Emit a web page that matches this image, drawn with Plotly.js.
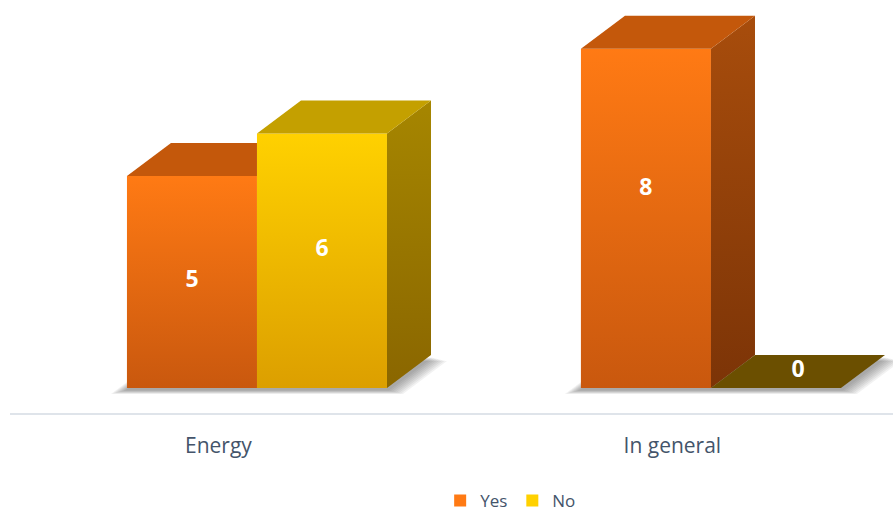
<!DOCTYPE html>
<html>
<head>
<meta charset="utf-8">
<script src="https://cdn.plot.ly/plotly-3.0.1.min.js"></script>
<style>
  html, body { margin: 0; padding: 0; background: #ffffff; }
  #chart { width: 893px; height: 514px; }
</style>
</head>
<body>
<div id="chart"></div>
<script>
// Survey answers per topic
const categories = ['Energy', 'In general'];
const seriesNames = ['Yes', 'No'];
const yesValues = [5, 8];
const noValues = [6, 0];

// Colours of each box face (front gradient, lid, side gradient, flat lid for zero-height boxes)
const palette = [
  { front: '#ff7a14', frontBottom: '#c9580e', top: '#c4580b', sideTop: '#a84d0c', sideBottom: '#7c3407', flat: '#7a3a08' },
  { front: '#ffd100', frontBottom: '#dc9f00', top: '#c4a000', sideTop: '#a68600', sideBottom: '#8a6600', flat: '#6b4f00' }
];
const valuesBySeries = [yesValues, noValues];

// Geometry of the pseudo-3D boxes, in axis units
const BARGAP = 0.4273;
const BAR_W = (1 - BARGAP) / seriesNames.length;
const DX = 0.097;   // depth, horizontal
const DY = 0.778;   // depth, vertical
const LABEL_SHIFT = -0.085;
const PX_X = 1 / 454;   // one screen pixel in x units
const PX_Y = 1 / 42.4;  // one screen pixel in y units

const font = 'Open Sans, Noto Sans, sans-serif';
const textColor = '#44546a';

function poly(points, color, gradient) {
  const t = {
    type: 'scatter', mode: 'lines', fill: 'toself',
    x: points.map(p => p[0]).concat([points[0][0]]),
    y: points.map(p => p[1]).concat([points[0][1]]),
    line: { width: 0, color: 'rgba(0,0,0,0)' },
    fillcolor: color,
    showlegend: false, hoverinfo: 'skip'
  };
  if (gradient) t.fillgradient = gradient;
  return t;
}

function vgrad(bottom, top) {
  return { type: 'vertical', colorscale: [[0, bottom], [1, top]] };
}

function hexA(hex, a) {
  const n = parseInt(hex.slice(1), 16);
  return 'rgba(' + (n >> 16 & 255) + ',' + (n >> 8 & 255) + ',' + (n & 255) + ',' + a + ')';
}

const traces = [];

// Front faces as bars
seriesNames.forEach((name, s) => {
  traces.push({
    type: 'bar', name: name,
    x: categories.map((c, i) => i),
    y: valuesBySeries[s],
    marker: { color: palette[s].front, line: { width: 0 } },
    hoverinfo: 'skip'
  });
});

// Lids, sides and shading of every box, painted back to front within each group
const shapes = [];
const labelX = [], labelY = [], labelText = [];
categories.forEach((cat, i) => {
  const groupStart = i - (1 - BARGAP) / 2;
  const groupEnd = groupStart + BAR_W * seriesNames.length;

  // soft floor shadow: stacked footprints, each a little wider
  for (let e = 2; e <= 16; e += 2) {
    const ex = e * PX_X, dyl = (2 + e * 0.25) * PX_Y;
    const pts = [
      [groupStart - ex, -dyl], [groupEnd + ex, -dyl],
      [groupEnd + DX + ex, DY - dyl], [groupStart + DX - ex, DY - dyl]
    ];
    shapes.push({
      type: 'path', xref: 'x', yref: 'y', layer: 'below',
      path: 'M' + pts.map(p => p[0] + ',' + p[1]).join(' L') + ' Z',
      fillcolor: 'rgba(60,60,60,0.065)', line: { width: 0 }
    });
  }

  seriesNames.forEach((name, s) => {
    const v = valuesBySeries[s][i];
    const c = palette[s];
    const x0 = groupStart + s * BAR_W;
    const x1 = x0 + BAR_W;
    const hasNext = s < seriesNames.length - 1;
    const vn = hasNext ? valuesBySeries[s + 1][i] : null;

    // front shading
    if (v > 0) {
      traces.push(poly([[x0, 0], [x1, 0], [x1, v], [x0, v]], c.front,
        vgrad(c.frontBottom, hexA(c.frontBottom, 0))));
    }

    // side face, partly hidden by the next box
    const lo = hasNext ? Math.max(vn, 0) : 0;
    if (v > 0 && lo < v) {
      traces.push(poly([[x1, lo], [x1, v], [x1 + DX, v + DY], [x1 + DX, lo + DY]], c.sideTop,
        vgrad(c.sideBottom, c.sideTop)));
    }

    // lid, partly hidden by the front of the next box
    const lidColor = v > 0 ? c.top : c.flat;
    let lid;
    if (!hasNext || vn <= v) {
      lid = [[x0, v], [x1, v], [x1 + DX, v + DY], [x0 + DX, v + DY]];
    } else if (vn >= v + DY) {
      lid = [[x0, v], [x1, v], [x1, v + DY], [x0 + DX, v + DY]];
    } else {
      lid = [[x0, v], [x1, v], [x1, vn], [x1 + (vn - v) / DY * DX, vn], [x1 + DX, v + DY], [x0 + DX, v + DY]];
    }
    traces.push(poly(lid, lidColor));

    // value label: inside the box, a little above the middle for tall boxes;
    // on the lid for zero-height boxes
    if (v > 0) {
      labelX.push(x0 + BAR_W / 2);
      labelY.push(Math.max(v / 2, v * 0.72 - 1.08));
    } else {
      labelX.push(x0 + BAR_W / 2 + DX / 2);
      labelY.push(v + DY / 2);
    }
    labelText.push(String(v));
  });
});

traces.push({
  type: 'scatter', mode: 'text',
  x: labelX, y: labelY, text: labelText,
  textposition: 'middle center',
  textfont: { family: font, size: 23, color: '#ffffff', weight: 'bold' },
  showlegend: false, hoverinfo: 'skip'
});

const layout = {
  width: 893, height: 514,
  margin: { l: 10, r: 0, t: 0, b: 101, autoexpand: false },
  paper_bgcolor: '#ffffff', plot_bgcolor: '#ffffff',
  barmode: 'group', bargap: BARGAP, bargroupgap: 0,
  xaxis: {
    type: 'linear', range: [-0.544, 1.401],
    tickmode: 'array',
    tickvals: categories.map((c, i) => i + LABEL_SHIFT),
    ticktext: categories,
    showline: true, linecolor: '#dfe4ea', linewidth: 2,
    showgrid: false, zeroline: false,
    ticks: 'outside', ticklen: 13, tickcolor: 'rgba(0,0,0,0)',
    tickfont: { family: font, size: 21, color: textColor },
    automargin: false, fixedrange: true
  },
  yaxis: { range: [-0.59, 9.151], visible: false, fixedrange: true },
  legend: {
    orientation: 'h', x: 0.567, xanchor: 'center', y: -0.213, yanchor: 'middle',
    font: { family: font, size: 17, color: textColor },
    itemwidth: 30, traceorder: 'normal'
  },
  hovermode: false,
  shapes: shapes
};

Plotly.newPlot('chart', traces, layout, { displayModeBar: false, staticPlot: true });
</script>
</body>
</html>
